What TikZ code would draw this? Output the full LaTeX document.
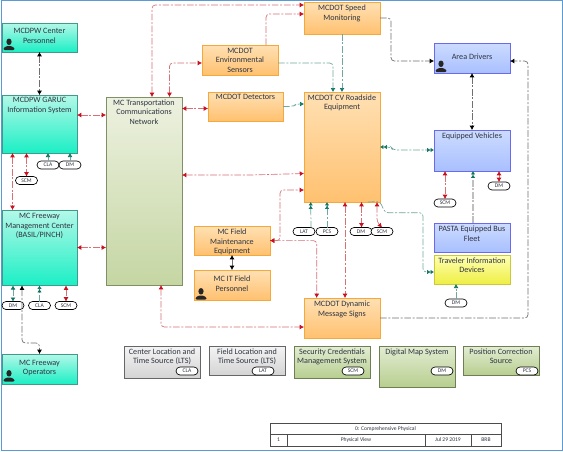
\documentclass[tikz,border=0pt]{standalone}
\usepackage{fontspec}
\setmainfont{Carlito}
\usetikzlibrary{arrows.meta,shapes.misc,shadows,calc}
\definecolor{rd}{HTML}{C8101E}
\definecolor{rdl}{HTML}{D87078}
\definecolor{tl}{HTML}{0F7565}
\definecolor{tll}{HTML}{6FA89E}
\definecolor{gy}{HTML}{707070}
\definecolor{txt}{HTML}{2E3440}
\definecolor{tealT}{HTML}{B4F8E8}\definecolor{tealB}{HTML}{1BEFC5}\definecolor{tealD}{HTML}{3F9B8A}
\definecolor{tanT}{HTML}{EDF1E0}\definecolor{tanB}{HTML}{C5D6A3}\definecolor{tanD}{HTML}{7F8F66}
\definecolor{orgT}{HTML}{FFE0B3}\definecolor{orgB}{HTML}{FFC170}\definecolor{orgD}{HTML}{F5A93B}
\definecolor{bluT}{HTML}{CCDBFF}\definecolor{bluB}{HTML}{A9C0FF}\definecolor{bluD}{HTML}{6A6AEE}
\definecolor{yelT}{HTML}{FFFFB5}\definecolor{yelB}{HTML}{EEEE44}\definecolor{yelD}{HTML}{C9C93A}
\definecolor{gryT}{HTML}{F4F4F4}\definecolor{gryB}{HTML}{D4D4D4}\definecolor{gryD}{HTML}{666666}
\definecolor{grnT}{HTML}{E3EDD2}\definecolor{grnB}{HTML}{B7CE90}\definecolor{grnD}{HTML}{6F7F55}
\definecolor{frame}{HTML}{5B9BD5}
\tikzset{
  base/.style={draw,rectangle,inner sep=0pt,outer sep=0pt,line width=.7pt,
     general shadow={fill=black!18,shadow xshift=.4pt,shadow yshift=-.5pt}},
  teal box/.style={base,draw=tealD,top color=tealT,bottom color=tealB},
  tan box/.style={base,draw=tanD,top color=tanT,bottom color=tanB},
  org box/.style={base,draw=orgD,top color=orgT,bottom color=orgB},
  blu box/.style={base,draw=bluD,top color=bluT,bottom color=bluB},
  yel box/.style={base,draw=yelD,top color=yelT,bottom color=yelB},
  gry box/.style={base,draw=gryD,top color=gryT,bottom color=gryB},
  grn box/.style={base,draw=grnD,top color=grnT,bottom color=grnB},
  lbl/.style={inner sep=0pt,outer sep=0pt,align=center,text=txt,font=\fontsize{6.1pt}{7.2pt}\selectfont,anchor=north},
  oval/.style={draw=black,fill=white,rounded rectangle,line width=.5pt,inner sep=0pt,outer sep=0pt,
     minimum width=16.5pt,minimum height=6pt,text=txt,font=\fontsize{4.2pt}{4.5pt}\selectfont},
  cell/.style={inner sep=0pt,outer sep=0pt,text=txt,font=\fontsize{4.2pt}{5pt}\selectfont},
  flow/.style={line width=.5pt,rounded corners=2.5pt,dash pattern=on 5pt off 1.3pt on 1.5pt off 1.3pt},
  rflow/.style={flow,draw=rdl},
  tflow/.style={flow,draw=tll},
  kflow/.style={flow,draw=gy},
  rr/.style={{Latex[length=3.2pt,width=3.6pt,color=rd]}-{Latex[length=3.2pt,width=3.6pt,color=rd]}},
  ro/.style={-{Latex[length=3.2pt,width=3.6pt,color=rd]}},
  kk/.style={{Latex[length=3.2pt,width=3.6pt,color=black]}-{Latex[length=3.2pt,width=3.6pt,color=black]}},
  ko/.style={-{Latex[length=3.2pt,width=3.6pt,color=black]}},
  to/.style={-{Latex[length=3pt,width=3.6pt,color=tl]}},
  tto/.style={-{Latex[length=2.6pt,width=3.4pt,color=tl]Latex[length=2.6pt,width=3.4pt,color=tl]}},
  tt/.style={{Latex[length=3pt,width=3.6pt,color=tl]}-{Latex[length=3pt,width=3.6pt,color=tl]}},
  dd/.style={{Latex[length=2.6pt,width=3.4pt,color=tl]Latex[length=2.6pt,width=3.4pt,color=tl]}-{Latex[length=2.6pt,width=3.4pt,color=tl]Latex[length=2.6pt,width=3.4pt,color=tl]}},
}
% style, name, x1, y1, x2, y2, top offset of text, text
\newcommand{\bx}[8]{%
  \pgfmathsetmacro\bw{(#5-#3)*0.75}\pgfmathsetmacro\bh{(#6-#4)*0.75}%
  \node[#1,minimum width=\bw pt,minimum height=\bh pt] (#2) at ({(#3+#5)/2},{(#4+#6)/2}) {};
  \node[lbl] (#2-t) at ($(#2.north)+(0,#7)$) {#8};
}
\newcommand{\person}[2]{%
  \fill[black!85] (#1+6,#2+3.3) ellipse[x radius=2.6,y radius=3.3];
  \fill[black!85,rounded corners=.8pt] (#1+0.5,#2+11.5) -- (#1+0.5,#2+9.5) -- (#1+4,#2+7.5) -- (#1+8,#2+7.5) -- (#1+11.5,#2+9.5) -- (#1+11.5,#2+11.5) -- cycle;
}
\begin{document}
\begin{tikzpicture}[x=0.75pt,y=-0.75pt]
\useasboundingbox (0,0) rectangle (563,451);
\fill[white] (0,0) rectangle (563,451);
\draw[draw=frame,line width=.7pt] (1,.5) rectangle (562,450);

% boxes
\bx{teal box}{dpwc}{2}{23}{77}{52}{5.5}{MCDPW Center\\Personnel}
\bx{teal box}{garuc}{2}{95}{77}{153}{2.5}{MCDPW GARUC\\Information System}
\bx{teal box}{fmc}{2}{210}{77}{285.5}{3.5}{MC Freeway\\Management Center\\(BASIL/PINCH)}
\bx{teal box}{fops}{2}{354}{77}{384}{6}{MC Freeway\\Operators}
\bx{tan box}{tcn}{106}{97}{182}{285}{2.5}{MC Transportation\\Communications\\Network}
\bx{org box}{env}{202}{45}{278}{75}{3}{MCDOT\\Environmental\\Sensors}
\bx{org box}{det}{208}{92}{283}{121}{2.5}{MCDOT Detectors}
\bx{org box}{spd}{304}{2.5}{380}{34}{2.5}{MCDOT Speed\\Monitoring}
\bx{org box}{cv}{304}{92}{380}{202}{2.5}{MCDOT CV Roadside\\Equipment}
\bx{org box}{fme}{194}{226}{270}{255}{3}{MC Field\\Maintenance\\Equipment}
\bx{org box}{itf}{194}{270}{270}{300}{6}{MC IT Field\\Personnel}
\bx{org box}{dms}{304}{298}{380}{338}{3}{MCDOT Dynamic\\Message Signs}
\bx{blu box}{drv}{434}{43}{510}{73}{11}{Area Drivers}
\bx{blu box}{eqv}{434}{130}{510}{171}{3}{Equipped Vehicles}
\bx{blu box}{pasta}{434}{223}{510}{252}{3}{PASTA Equipped Bus\\Fleet}
\bx{yel box}{tid}{434}{255}{510}{284}{2.5}{Traveler Information\\Devices}
\bx{gry box}{cla}{124}{346}{200}{378}{2.5}{Center Location and\\Time Source (LTS)}
\bx{gry box}{lat}{209}{346}{285}{375}{2.5}{Field Location and\\Time Source (LTS)}
\bx{grn box}{scm}{294}{346}{370}{378}{2.5}{Security Credentials\\Management System}
\bx{grn box}{dm}{379}{346}{455}{387}{2.5}{Digital Map System}
\bx{grn box}{pcs}{463}{346}{539}{375}{2.5}{Position Correction\\Source}

% people
\person{3}{38.5}
\person{3}{370}
\person{195}{288}
\person{435}{60.5}

% ovals
\node[oval] (o1) at (48,165) {CLA};
\node[oval] (o2) at (70,165) {DM};
\node[oval] (o3) at (26.5,180.5) {SCM};
\node[oval] (o4) at (13,305.5) {DM};
\node[oval] (o5) at (39.5,305.5) {CLA};
\node[oval] (o6) at (66,305.5) {SCM};
\node[oval] (o7) at (304,231.5) {LAT};
\node[oval] (o8) at (327,231.5) {PCS};
\node[oval] (o9) at (361,231.5) {DM};
\node[oval] (o10) at (382,231.5) {SCM};
\node[oval] (o11) at (499,186) {DM};
\node[oval] (o12) at (445,203) {SCM};
\node[oval] (o13) at (456,303) {DM};
\node[oval] (o14) at (187,371) {CLA};
\node[oval] (o15) at (263,371) {LAT};
\node[oval] (o16) at (353,371) {SCM};
\node[oval] (o17) at (442,371) {DM};
\node[oval] (o18) at (527,371) {PCS};

% connectors
\draw[kflow,kk] (39.5,0 |- dpwc.south) -- (39.5,0 |- garuc.north);
\draw[rflow,rr] (garuc.east |- 0,115) -- (tcn.west |- 0,115);
\draw[rflow,rr] (12.5,0 |- garuc.south) -- (12.5,0 |- fmc.north);
\draw[rflow,rr] (26.5,0 |- garuc.south) -- (o3.north);
\draw[tflow,to] (o1.north) -- (48,0 |- garuc.south);
\draw[tflow,to] (o2.north) -- (70,0 |- garuc.south);
\draw[rflow,rr] (fmc.east |- 0,247.5) -- (tcn.west |- 0,247.5);
\draw[tflow,tt] (13,0 |- fmc.south) -- (o4.north);
\draw[tflow,tto] (o5.north) -- (39.5,0 |- fmc.south);
\draw[rflow,rr] (66,0 |- fmc.south) -- (o6.north);
\draw[kflow,kk] (22,0 |- fmc.south) -- (22,343) -- (39.5,343) -- (39.5,0 |- fops.north);
\draw[rflow,rr] (152,0 |- tcn.north) -- (152,5) -- (spd.west |- 0,5);
\draw[rflow,rr] (169.5,0 |- tcn.north) -- (169.5,63) -- (env.west |- 0,63);
\draw[rflow,rr] (tcn.east |- 0,108.5) -- (det.west |- 0,108.5);
\draw[rflow,rr] (tcn.east |- 0,175) -- (250,175) -- (cv.west |- 0,173.5);
\draw[rflow,rr] (161,0 |- tcn.south) -- (161,327) -- (dms.west |- 0,327);
\draw[rflow,ro] (266,0 |- env.north) -- (266,14) -- (spd.west |- 0,14);
\draw[tflow,to] (env.east |- 0,63) -- (333,63) -- (333,0 |- cv.north);
\draw[tflow,to] (342,0 |- spd.south) -- (342,0 |- cv.north);
\draw[tflow,to] (det.east |- 0,106.5) -- (293,106.5) -- (296,104) -- (cv.west |- 0,104);
\draw[rflow,rr] (fme.east |- 0,240.6) -- (280,240.6) -- (280,190) -- (cv.west |- 0,190);
\draw[rflow,rr] (fme.east |- 0,240.6) -- (316.7,240.6) -- (316.7,0 |- dms.north);
\draw[kflow,kk] (232,0 |- fme.south) -- (232,0 |- itf.north);
\draw[rflow,rr] (345,0 |- cv.south) -- (345,0 |- dms.north);
\draw[rflow,rr] (361.5,0 |- cv.south) -- (361.5,0 |- o9.north);
\draw[rflow,rr] (377,0 |- cv.south) -- (377,222) -- (o10.north);
\draw[tflow,tto] (o7.north east) to[out=90,in=-90] (310.7,0 |- cv.south);
\draw[tflow,tto] (o8.north) -- (327,0 |- cv.south);
\draw[tflow,dd] (cv.east |- 0,147) -- (391,147) -- (393,150) -- (eqv.west |- 0,150);
\draw[tflow,tto] (368,0 |- cv.south) -- (380,201.5) -- (385,212.7) -- (423,212.7) -- (423,272) -- (tid.west |- 0,272);
\draw[kflow,ko] (spd.east |- 0,18) -- (391,18) -- (391,61) -- (drv.west |- 0,61);
\draw[kflow,kk] (472,0 |- drv.south) -- (472,0 |- eqv.north);
\draw[kflow,ko] (dms.east |- 0,318) -- (528,318) -- (528,61) -- (drv.east |- 0,61);
\draw[rflow,rr] (445,0 |- eqv.south) -- (o12.north);
\draw[rflow,rr] (499,0 |- eqv.south) -- (o11.north);
\draw[flow,draw=black!25,line width=.9pt,tto] (473,0 |- pasta.north) -- (473,0 |- eqv.south);
\draw[tflow,to] (o13.north) -- (456,0 |- tid.south);

% title block
\draw[draw=black!70,line width=.5pt] (270,423) rectangle (501,446);
\draw[draw=black!70,line width=.5pt] (270,434) -- (501,434) (287,434) -- (287,446) (425,434) -- (425,446) (471,434) -- (471,446);
\node[cell] (tb0) at (385.5,428.7) {0: Comprehensive Physical};
\node[cell] (tb1) at (278.5,440) {1};
\node[cell] (tb2) at (356,440) {Physical View};
\node[cell] (tb3) at (448,440) {Jul 29 2019};
\node[cell] (tb4) at (486,440) {BRB};
\end{tikzpicture}
\end{document}
